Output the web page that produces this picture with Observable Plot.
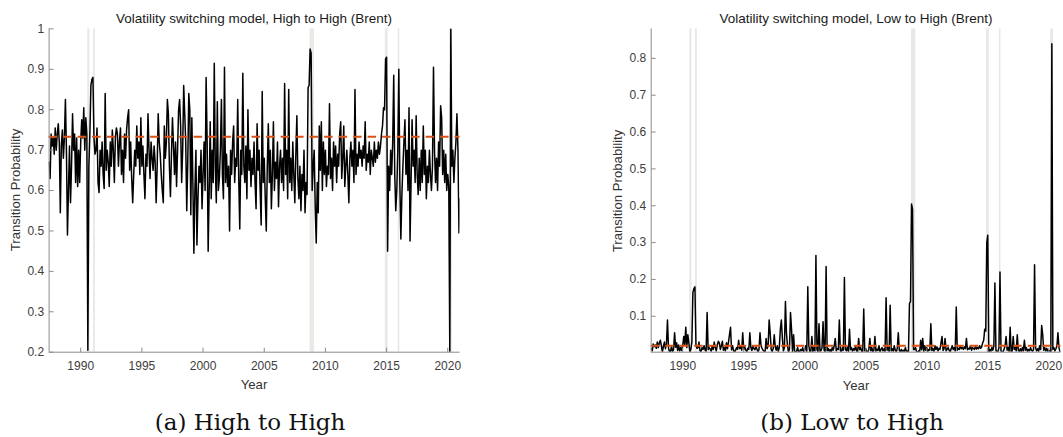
<!DOCTYPE html>
<html>
<head>
<meta charset="utf-8">
<script src="https://cdn.jsdelivr.net/npm/d3@7"></script>
<script src="https://cdn.jsdelivr.net/npm/@observablehq/plot@0.6"></script>
<style>
  html, body { margin: 0; padding: 0; background: #fff; }
  body { width: 1063px; height: 437px; position: relative; overflow: hidden; font-family: "Liberation Sans", Arial, sans-serif; }
  .abs { position: absolute; white-space: nowrap; transform: translate(-50%, -50%); }
  .title { font-size: 13.5px; color: #1a1a1a; }
  .alabel { font-size: 13.2px; color: #333; }
  .cap { font-family: "DejaVu Serif", serif; font-size: 23px; color: #111; }
  .rot { transform: translate(-50%, -50%) rotate(-90deg); }
</style>
</head>
<body>
<div id="left" style="position:absolute;left:0;top:0;width:530px"></div>
<div id="right" style="position:absolute;left:530px;top:0;width:533px"></div>

<div class="abs title" style="left:254px;top:17.5px">Volatility switching model, High to High (Brent)</div>
<div class="abs title" style="left:856px;top:17.5px">Volatility switching model, Low to High (Brent)</div>
<div class="abs alabel rot" style="left:14.5px;top:190px">Transition Probability</div>
<div class="abs alabel rot" style="left:617px;top:191px">Transition Probability</div>
<div class="abs alabel" style="left:254px;top:384px">Year</div>
<div class="abs alabel" style="left:856px;top:385px">Year</div>
<div class="abs cap" style="left:250px;top:422px">(a) High to High</div>
<div class="abs cap" style="left:852px;top:422px">(b) Low to High</div>

<script>
// Monthly series, June 1987 .. January 2021
const startYear = 1987;
const startMonth = 6;

// High-to-High transition probability
const hhValues = [
  0.67,0.63,0.74,0.71,0.73,0.69,0.755,                              // 1987 Jun-Dec
  0.70,0.74,0.765,0.72,0.545,0.71,0.75,0.68,0.73,0.825,0.70,0.49,   // 1988
  0.60,0.71,0.57,0.66,0.79,0.70,0.74,0.62,0.73,0.61,0.70,0.62,      // 1989
  0.72,0.775,0.73,0.805,0.70,0.78,0.74,0.205,0.66,0.74,0.86,0.875,  // 1990
  0.88,0.73,0.69,0.70,0.755,0.62,0.595,0.70,0.66,0.72,0.64,0.605,   // 1991
  0.84,0.65,0.70,0.67,0.61,0.72,0.66,0.75,0.70,0.62,0.73,0.755,     // 1992
  0.74,0.66,0.72,0.755,0.64,0.70,0.62,0.74,0.68,0.75,0.78,0.80,     // 1993
  0.65,0.72,0.63,0.57,0.64,0.70,0.66,0.76,0.68,0.72,0.64,0.78,      // 1994
  0.66,0.71,0.64,0.58,0.69,0.66,0.79,0.70,0.63,0.72,0.68,0.65,      // 1995
  0.71,0.67,0.57,0.66,0.79,0.72,0.69,0.64,0.60,0.57,0.76,0.68,      // 1996
  0.72,0.825,0.79,0.66,0.585,0.69,0.78,0.71,0.64,0.72,0.61,0.70,    // 1997
  0.80,0.825,0.76,0.62,0.70,0.86,0.79,0.72,0.55,0.67,0.84,0.80,     // 1998
  0.54,0.78,0.62,0.445,0.60,0.70,0.465,0.58,0.66,0.62,0.70,0.555,   // 1999
  0.64,0.72,0.60,0.88,0.72,0.45,0.60,0.77,0.58,0.70,0.62,0.915,     // 2000
  0.66,0.57,0.82,0.60,0.63,0.70,0.825,0.64,0.58,0.905,0.62,0.69,    // 2001
  0.61,0.66,0.50,0.70,0.64,0.72,0.76,0.62,0.68,0.66,0.825,0.63,     // 2002
  0.505,0.70,0.64,0.89,0.66,0.62,0.71,0.58,0.80,0.65,0.70,0.61,     // 2003
  0.68,0.64,0.72,0.62,0.555,0.765,0.65,0.70,0.60,0.515,0.845,0.62,  // 2004
  0.68,0.58,0.50,0.66,0.765,0.62,0.70,0.555,0.64,0.77,0.60,0.67,    // 2005
  0.63,0.72,0.56,0.66,0.70,0.62,0.68,0.60,0.865,0.64,0.70,0.58,     // 2006
  0.85,0.62,0.68,0.60,0.72,0.64,0.57,0.69,0.785,0.63,0.58,0.66,     // 2007
  0.55,0.64,0.60,0.70,0.545,0.62,0.59,0.855,0.86,0.95,0.94,0.60,    // 2008
  0.66,0.70,0.56,0.47,0.62,0.545,0.76,0.65,0.77,0.60,0.72,0.64,     // 2009
  0.70,0.61,0.66,0.64,0.815,0.63,0.68,0.60,0.72,0.66,0.71,0.62,     // 2010
  0.69,0.66,0.74,0.77,0.63,0.68,0.76,0.61,0.66,0.70,0.64,0.57,      // 2011
  0.68,0.72,0.66,0.70,0.62,0.85,0.64,0.69,0.66,0.72,0.68,0.70,      // 2012
  0.66,0.71,0.68,0.77,0.65,0.69,0.67,0.72,0.64,0.70,0.68,0.66,      // 2013
  0.72,0.67,0.70,0.68,0.72,0.69,0.71,0.74,0.76,0.805,0.80,0.925,    // 2014
  0.93,0.45,0.66,0.60,0.70,0.64,0.72,0.885,0.64,0.55,0.60,0.70,     // 2015
  0.90,0.62,0.48,0.59,0.66,0.72,0.775,0.64,0.70,0.60,0.805,0.475,   // 2016
  0.62,0.775,0.66,0.70,0.62,0.785,0.64,0.59,0.68,0.60,0.70,0.62,    // 2017
  0.76,0.64,0.70,0.58,0.66,0.62,0.70,0.64,0.60,0.66,0.905,0.70,     // 2018
  0.62,0.68,0.60,0.72,0.66,0.81,0.78,0.64,0.70,0.62,0.69,0.60,      // 2019
  0.64,0.61,0.20,1.00,0.66,0.70,0.62,0.68,0.72,0.79,0.70,0.495,     // 2020
  0.58                                                              // 2021 Jan
];

// Low-to-High transition probability
const lhValues = [
  0.012,0.006,0.025,0.018,0.022,0.013,0.030,                              // 1987
  0.015,0.028,0.035,0.020,0.003,0.018,0.030,0.012,0.025,0.090,0.015,0.003, // 1988
  0.005,0.018,0.004,0.010,0.055,0.016,0.028,0.007,0.022,0.006,0.015,0.007, // 1989
  0.020,0.045,0.022,0.070,0.015,0.050,0.028,0.003,0.010,0.030,0.165,0.175, // 1990
  0.180,0.022,0.013,0.015,0.030,0.006,0.004,0.015,0.010,0.020,0.008,0.005, // 1991
  0.110,0.009,0.015,0.011,0.005,0.020,0.010,0.030,0.015,0.006,0.022,0.032, // 1992
  0.028,0.010,0.020,0.032,0.008,0.015,0.006,0.028,0.012,0.030,0.050,0.070, // 1993
  0.009,0.020,0.007,0.003,0.008,0.015,0.010,0.035,0.012,0.020,0.008,0.055, // 1994
  0.010,0.017,0.008,0.004,0.013,0.010,0.055,0.015,0.007,0.020,0.012,0.009, // 1995
  0.017,0.011,0.003,0.010,0.055,0.020,0.013,0.008,0.005,0.003,0.040,0.012, // 1996
  0.020,0.090,0.055,0.010,0.004,0.013,0.050,0.017,0.008,0.020,0.005,0.015, // 1997
  0.065,0.090,0.040,0.006,0.015,0.140,0.055,0.020,0.003,0.011,0.110,0.065, // 1998
  0.003,0.050,0.006,0.003,0.005,0.015,0.003,0.004,0.010,0.006,0.015,0.003, // 1999
  0.008,0.020,0.005,0.180,0.020,0.003,0.005,0.045,0.004,0.015,0.006,0.265, // 2000
  0.010,0.003,0.080,0.005,0.007,0.015,0.085,0.008,0.004,0.235,0.006,0.013, // 2001
  0.005,0.010,0.003,0.015,0.008,0.020,0.040,0.006,0.012,0.010,0.090,0.007, // 2002
  0.003,0.015,0.008,0.205,0.010,0.006,0.017,0.004,0.065,0.009,0.015,0.005, // 2003
  0.012,0.008,0.020,0.006,0.003,0.040,0.009,0.015,0.005,0.003,0.120,0.006, // 2004
  0.012,0.004,0.003,0.010,0.040,0.006,0.015,0.003,0.008,0.045,0.005,0.011, // 2005
  0.007,0.020,0.003,0.010,0.015,0.006,0.012,0.005,0.150,0.008,0.015,0.004, // 2006
  0.130,0.006,0.012,0.005,0.020,0.008,0.003,0.013,0.055,0.007,0.004,0.010, // 2007
  0.003,0.008,0.005,0.015,0.003,0.006,0.004,0.135,0.140,0.405,0.390,0.010, // 2008
  0.010,0.015,0.003,0.003,0.006,0.003,0.035,0.009,0.040,0.005,0.020,0.008, // 2009
  0.015,0.005,0.010,0.008,0.080,0.007,0.012,0.005,0.020,0.010,0.017,0.006, // 2010
  0.013,0.010,0.028,0.045,0.007,0.012,0.040,0.006,0.010,0.015,0.008,0.003, // 2011
  0.012,0.020,0.010,0.015,0.006,0.125,0.008,0.013,0.010,0.020,0.012,0.015, // 2012
  0.010,0.017,0.012,0.040,0.009,0.013,0.011,0.020,0.008,0.015,0.012,0.010, // 2013
  0.020,0.011,0.015,0.012,0.020,0.013,0.017,0.028,0.035,0.065,0.060,0.300, // 2014
  0.320,0.003,0.010,0.005,0.015,0.008,0.020,0.190,0.008,0.003,0.005,0.015, // 2015
  0.220,0.006,0.003,0.004,0.010,0.020,0.045,0.008,0.015,0.005,0.070,0.003, // 2016
  0.006,0.045,0.010,0.015,0.006,0.050,0.008,0.004,0.012,0.005,0.015,0.006, // 2017
  0.035,0.008,0.015,0.004,0.010,0.006,0.015,0.008,0.005,0.010,0.240,0.015, // 2018
  0.006,0.012,0.005,0.020,0.010,0.075,0.050,0.008,0.015,0.006,0.013,0.005, // 2019
  0.008,0.005,0.003,0.840,0.010,0.015,0.006,0.012,0.020,0.055,0.015,0.003, // 2020
  0.004                                                                    // 2021
];

// Long-run averages (orange dashed lines)
const hhMean = 0.733;
const lhMean = 0.02;

// Shaded event periods (decimal years)
const bandStart = [1990.58, 1991.05, 2008.75, 2014.90, 2015.95, 2020.15];
const bandEnd   = [1990.75, 1991.20, 2009.10, 2015.12, 2016.08, 2020.38];

const xTicks = [1990, 1995, 2000, 2005, 2010, 2015, 2020];
const hhTicks = [0.2, 0.3, 0.4, 0.5, 0.6, 0.7, 0.8, 0.9, 1];
const lhTicks = [0.1, 0.2, 0.3, 0.4, 0.5, 0.6, 0.7, 0.8];

const bands = bandStart.map((s, i) => ({x1: s, x2: bandEnd[i]}));
const toDate = i => startYear + (startMonth - 1 + i) / 12;
const hhData = hhValues.map((v, i) => ({x: toDate(i), y: v}));
const lhData = lhValues.map((v, i) => ({x: toDate(i), y: v}));
const xDomain = [toDate(0), toDate(hhValues.length - 1)];

// inward tick glyphs
const tickRight = {draw(ctx) { ctx.moveTo(0, 0); ctx.lineTo(4.5, 0); }};
const tickUp = {draw(ctx) { ctx.moveTo(0, 0); ctx.lineTo(0, -4.5); }};
const axisGray = "#8c8c8c";

function panel({data, mean, yDomain, yTicks, width, marginLeft, marginRight}) {
  return Plot.plot({
    width, height: 400,
    marginTop: 28.4, marginBottom: 48.3, marginLeft, marginRight,
    style: {fontFamily: "Liberation Sans, Arial, sans-serif", fontSize: "12px", color: "#3d3d3d", background: "transparent"},
    x: {domain: xDomain},
    y: {domain: yDomain},
    marks: [
      Plot.rect(bands, {x1: "x1", x2: "x2", fill: "#e9e8e5"}),
      Plot.line(data, {x: "x", y: "y", stroke: "#000", strokeWidth: 1.5, clip: true}),
      Plot.ruleY([mean], {stroke: "#D95319", strokeWidth: 2, strokeDasharray: "8.5,6"}),
      Plot.ruleX([xDomain[0]], {stroke: axisGray, strokeWidth: 1}),
      Plot.ruleY([yDomain[0]], {stroke: axisGray, strokeWidth: 1}),
      Plot.dot(yTicks, {x: xDomain[0], y: d => d, symbol: tickRight, stroke: axisGray, fill: "none", strokeWidth: 1}),
      Plot.dot(xTicks, {x: d => d, y: yDomain[0], symbol: tickUp, stroke: axisGray, fill: "none", strokeWidth: 1}),
      Plot.axisX({ticks: xTicks, tickFormat: d3.format("d"), tickSize: 0, tickPadding: 9.5, label: null}),
      Plot.axisY({ticks: yTicks, tickFormat: d3.format("~g"), tickSize: 0, tickPadding: 5, label: null})
    ]
  });
}

document.getElementById("left").append(panel({
  data: hhData, mean: hhMean, yDomain: [0.2, 1.0], yTicks: hhTicks,
  width: 530, marginLeft: 48.6, marginRight: 70.5
}));
document.getElementById("right").append(panel({
  data: lhData, mean: lhMean, yDomain: [0.0025, 0.88], yTicks: lhTicks,
  width: 533, marginLeft: 120.7, marginRight: 2.5
}));
</script>
</body>
</html>
